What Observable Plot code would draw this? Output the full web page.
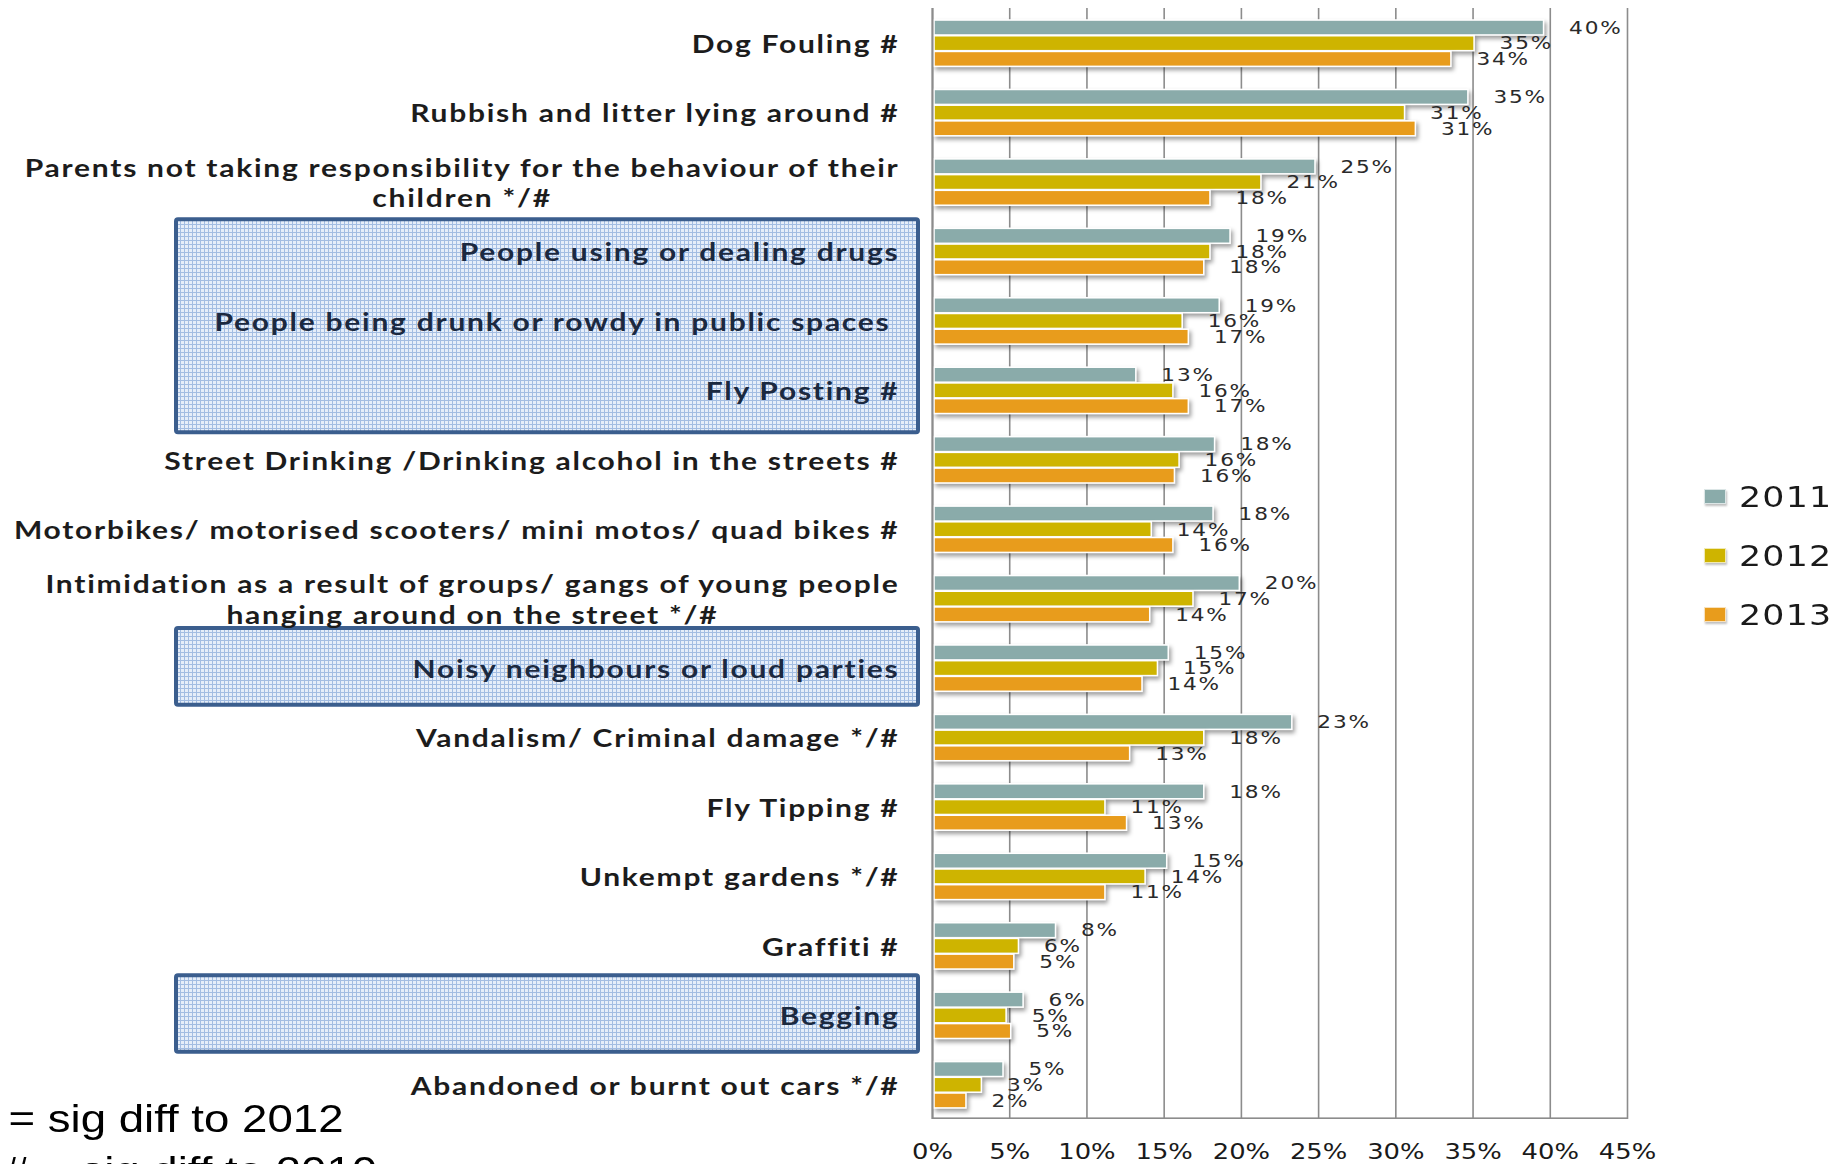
<!DOCTYPE html>
<html>
<head>
<meta charset="utf-8">
<script src="https://cdn.jsdelivr.net/npm/d3@7"></script>
<script src="https://cdn.jsdelivr.net/npm/@observablehq/plot@0.6"></script>
<style>
  html, body { margin: 0; padding: 0; background: #fff; overflow: hidden; }
  #wrap { position: relative; width: 1847px; height: 1164px; overflow: hidden; background: #fff; }
  #chart svg { position: absolute; left: 0; top: 0; }
  #legend { position: absolute; left: 1704px; top: 467px; }
  .lg-row { height: 59px; display: flex; align-items: center; }
  .lg-sw { width: 22px; height: 15px; box-sizing: border-box; border: 1px solid rgba(255,255,255,0.7); box-shadow: 1px 2px 2px rgba(0,0,0,0.25); margin-right: 13px; }
  .lg-tx { font-family: "DejaVu Sans", sans-serif; font-size: 29px; color: #1a1a1a; transform: scaleX(1.2); transform-origin: left center; letter-spacing: 1px; }
  .note { position: absolute; font-family: "Liberation Sans", Arial, sans-serif; font-size: 38px; line-height: 38px; color: #000; white-space: nowrap; transform: scaleX(1.2); transform-origin: left top; }
</style>
</head>
<body>
<div id="wrap">
  <div id="chart"></div>
  <div id="legend"></div>
  <div id="notes"></div>
</div>
<script>
// ---------------- data ----------------
const categories = [
  "Dog Fouling #",
  "Rubbish and litter lying around #",
  "Parents not taking responsibility for the behaviour of their\nchildren */#",
  "People using or dealing drugs",
  "People being drunk or rowdy in public spaces\u00a0",
  "Fly Posting #",
  "Street Drinking /Drinking alcohol in the streets #",
  "Motorbikes/ motorised scooters/ mini motos/ quad bikes #",
  "Intimidation as a result of groups/ gangs of young people\nhanging around on the street */#",
  "Noisy neighbours or loud parties",
  "Vandalism/ Criminal damage */#",
  "Fly Tipping #",
  "Unkempt gardens */#",
  "Graffiti #",
  "Begging",
  "Abandoned or burnt out cars */#"
];
const years = ["2011", "2012", "2013"];
const v2011 = [39.6, 34.7, 24.8, 19.3, 18.6, 13.2, 18.3, 18.2, 19.9, 15.3, 23.3, 17.6, 15.2, 8.0, 5.9, 4.6];
const v2012 = [35.1, 30.6, 21.3, 18.0, 16.2, 15.6, 16.0, 14.2, 16.9, 14.6, 17.6, 11.2, 13.8, 5.6, 4.8, 3.2];
const v2013 = [33.6, 31.3, 18.0, 17.6, 16.6, 16.6, 15.7, 15.6, 14.1, 13.6, 12.8, 12.6, 11.2, 5.3, 5.1, 2.2];
const colors = ["#8AABAA", "#CEB400", "#E89C1C"];
const xTicks = [0, 0.05, 0.10, 0.15, 0.20, 0.25, 0.30, 0.35, 0.40, 0.45];
const highlightGroups = [
  ["People using or dealing drugs", "Fly Posting #"],
  ["Noisy neighbours or loud parties", "Noisy neighbours or loud parties"],
  ["Begging", "Begging"]
];
const footnotes = ["* = sig diff to 2012", "# = sig diff to 2010"];

// ---------------- layout / style ----------------
const W = 1847, H = 1164;
const mT = 8, mB = 45, mL = 932, mR = 220;
const band = (H - mT - mB) / categories.length;
const barOff = 12.0, barStep = 15.7, barH = 15.0;
const boxPad = [[3, 7.5], [-5, 2.3], [-5, 2.3]];
const gridColor = "#8c8c8c";
const fmt = d3.format(".0%");

const series = [v2011, v2012, v2013];
const rows = years.flatMap((yr, k) =>
  categories.map((c, i) => ({category: c, year: yr, value: series[k][i] / 100}))
);

const marks = [
  Plot.gridX(xTicks, {stroke: gridColor, strokeOpacity: 1, strokeWidth: 1.6})
];
years.forEach((yr, k) => {
  const top = barOff + k * barStep;
  marks.push(Plot.barX(rows.filter(d => d.year === yr), {
    y: "category", x: "value", fill: "year",
    stroke: "white", strokeWidth: 1.6,
    insetTop: top, insetBottom: band - top - barH, insetLeft: 2
  }));
});
years.forEach((yr, k) => {
  const top = barOff + k * barStep;
  marks.push(Plot.text(rows.filter(d => d.year === yr), {
    y: "category", x: "value", text: d => fmt(d.value),
    dx: 25, dy: top + barH / 2 - band / 2,
    textAnchor: "start", fontFamily: "DejaVu Sans", fontSize: 18, fill: "#2a2a2a"
  }));
});
marks.push(
  Plot.ruleX([0], {stroke: gridColor, strokeWidth: 2}),
  Plot.barX([categories[categories.length - 1]], {
    y: d => d, x1: xTicks[0], x2: xTicks[xTicks.length - 1],
    fill: gridColor, insetTop: band - 1.6, insetBottom: 0
  }),
  Plot.axisX({
    ticks: xTicks, anchor: "bottom", tickSize: 0, tickPadding: 24,
    tickFormat: fmt, fontSize: 21.5, fontFamily: "DejaVu Sans", fill: "#1a1a1a", label: null
  }),
  Plot.axisY({
    anchor: "left", tickSize: 0, tickPadding: 33, tickFormat: d => d,
    fontSize: 25, fontFamily: "Lato", fontWeight: 700, fill: "#1c1c1c",
    lineHeight: 1.22, label: null
  })
);

const plot = Plot.plot({
  width: W, height: H,
  marginTop: mT, marginBottom: mB, marginLeft: mL, marginRight: mR,
  x: {domain: [xTicks[0], xTicks[xTicks.length - 1]]},
  y: {domain: categories, padding: 0, round: false},
  color: {domain: years, range: colors},
  style: {background: "transparent", overflow: "visible"},
  marks
});
document.getElementById("chart").append(plot);

const svg = d3.select(plot);

// bar shadows: groups of white-stroked bars
svg.selectAll("g").filter(function () { return this.getAttribute("stroke") === "white"; })
  .style("filter", "drop-shadow(2px 3px 2px rgba(0,0,0,0.38))");

// value labels: groups anchored at start
svg.selectAll("g").filter(function () { return this.getAttribute("text-anchor") === "start"; })
  .selectAll("text").style("letter-spacing", "1.5px");

// ---------------- highlight boxes (from the y scale) ----------------
const ys = plot.scale("y");
const defs = svg.insert("defs", ":first-child");
const pat = defs.append("pattern").attr("id", "boxpat")
  .attr("width", 4).attr("height", 4).attr("patternUnits", "userSpaceOnUse");
pat.append("rect").attr("width", 4).attr("height", 4).attr("fill", "#e6eef9");
pat.append("path").attr("d", "M0 0.5H4M0.5 0V4").attr("stroke", "#a3bde2").attr("stroke-width", 1);
const firstG = plot.querySelector("g");
const boxG = document.createElementNS("http://www.w3.org/2000/svg", "g");
plot.insertBefore(boxG, firstG);
highlightGroups.forEach(([a, b], i) => {
  const y0 = ys.apply(a) + boxPad[i][0];
  const y1 = ys.apply(b) + ys.bandwidth + boxPad[i][1];
  d3.select(boxG).append("rect")
    .attr("x", 176).attr("width", 742)
    .attr("y", y0).attr("height", y1 - y0)
    .attr("rx", 2)
    .attr("fill", "url(#boxpat)")
    .attr("stroke", "#3B5E8E").attr("stroke-width", 4);
});

// ---------------- y tick labels: spacing, colour, centred wrapped lines ----------------
const inBox = new Set();
highlightGroups.forEach(([a, b]) => {
  for (let i = categories.indexOf(a); i <= categories.indexOf(b); i++) inBox.add(categories[i].replace(/\n/g, ""));
});
svg.selectAll("g").filter(function () { return this.getAttribute("text-anchor") === "end"; })
  .selectAll("text").each(function () {
    this.style.letterSpacing = "1.45px";
    if (inBox.has(this.textContent)) this.setAttribute("fill", "#1b2940");
    const tspans = this.querySelectorAll("tspan");
    if (tspans.length > 1) {
      let w = 0;
      tspans.forEach(t => { w = Math.max(w, t.getComputedTextLength()); });
      this.setAttribute("text-anchor", "middle");
      tspans.forEach(t => t.setAttribute("x", -w / 2));
    }
  });

// horizontal stretch of all chart texts (the reference is widened)
svg.selectAll("text").each(function () {
  const t = this.getAttribute("transform");
  if (t) {
    this.setAttribute("transform", t + " scale(1.2,1)");
  } else {
    const x = +this.getAttribute("x") || 0, y = +this.getAttribute("y") || 0;
    this.removeAttribute("x"); this.removeAttribute("y");
    this.setAttribute("transform", `translate(${x},${y}) scale(1.2,1)`);
  }
});

// ---------------- legend ----------------
const legend = d3.select("#legend");
years.forEach((yr, k) => {
  const row = legend.append("div").attr("class", "lg-row");
  row.append("div").attr("class", "lg-sw").style("background", colors[k]);
  row.append("div").attr("class", "lg-tx").text(yr);
});

// ---------------- footnotes ----------------
const notes = d3.select("#notes");
footnotes.forEach((t, i) => {
  notes.append("div").attr("class", "note")
    .style("left", (i === 0 ? -22 : 4) + "px")
    .style("top", (1100 + i * 52) + "px")
    .text(t);
});
</script>
</body>
</html>
